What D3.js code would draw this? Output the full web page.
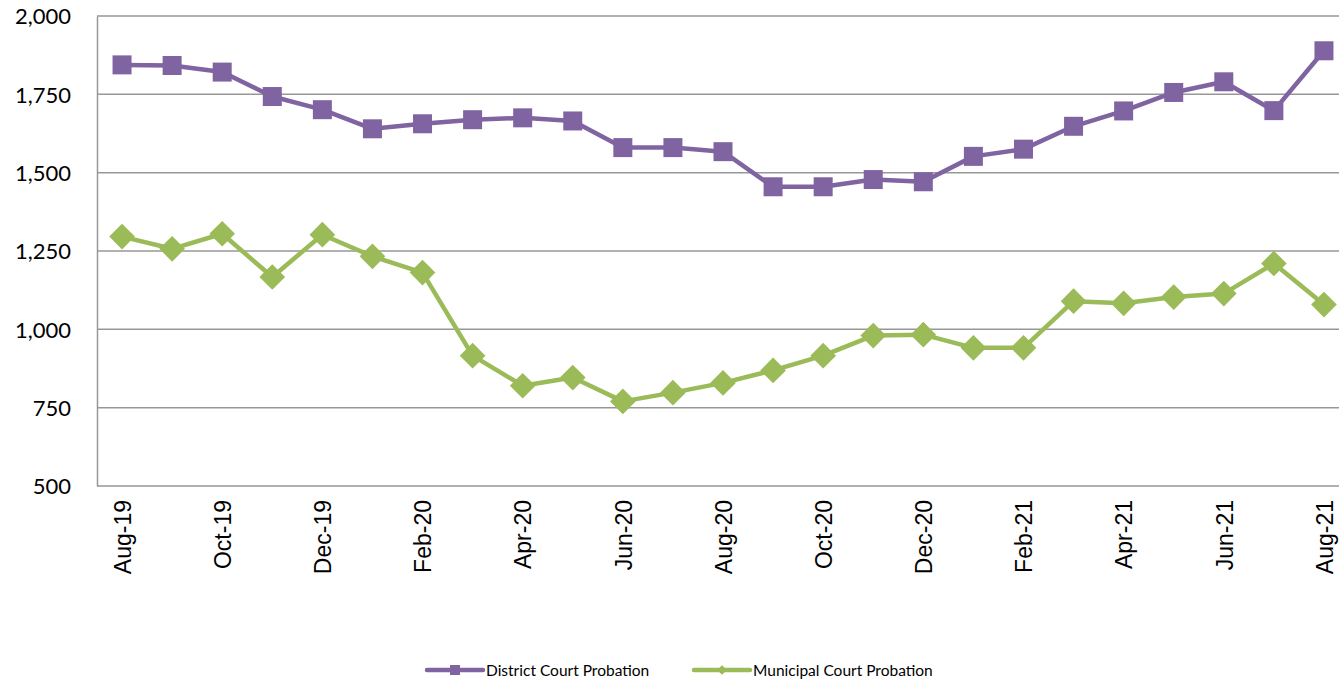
<!DOCTYPE html>
<html>
<head>
<meta charset="utf-8">
<script src="https://cdnjs.cloudflare.com/ajax/libs/d3/7.8.5/d3.min.js"></script>
<style>
  html, body { margin: 0; padding: 0; background: #fff; overflow: hidden; }
  svg { display: block; }
</style>
</head>
<body>
<svg id="chart" width="1339" height="679"></svg>
<script>
const months = ["Aug-19","Sep-19","Oct-19","Nov-19","Dec-19","Jan-20","Feb-20","Mar-20","Apr-20","May-20","Jun-20","Jul-20","Aug-20","Sep-20","Oct-20","Nov-20","Dec-20","Jan-21","Feb-21","Mar-21","Apr-21","May-21","Jun-21","Jul-21","Aug-21"];
const districtCourt = [1844,1842,1821,1743,1701,1640,1656,1669,1675,1665,1580,1580,1567,1455,1455,1478,1471,1552,1575,1648,1697,1756,1790,1698,1889];
const municipalCourt = [1296,1257,1305,1167,1302,1233,1181,916,820,846,770,798,829,869,916,980,983,941,941,1090,1083,1103,1114,1210,1079];
const yTicks = [500,750,1000,1250,1500,1750,2000];
const xTickLabels = ["Aug-19","Oct-19","Dec-19","Feb-20","Apr-20","Jun-20","Aug-20","Oct-20","Dec-20","Feb-21","Apr-21","Jun-21","Aug-21"];
const seriesNames = ["District Court Probation","Municipal Court Probation"];

const purple = "#8064A2", green = "#9BBB59", grid = "#979797";
const svg = d3.select("#chart");
const L = 97, R = 1349, T = 16, B = 486;

const x = d3.scalePoint().domain(months).range([L, R]).padding(0.5);
const y = d3.scaleLinear().domain([500, 2000]).range([B, T]);

// gridlines
svg.append("g").selectAll("line").data(yTicks).join("line")
  .attr("x1", L).attr("x2", R)
  .attr("y1", d => y(d)).attr("y2", d => y(d))
  .attr("stroke", grid).attr("stroke-width", 1.5);

// y axis
const yAxis = d3.axisLeft(y).tickValues(yTicks).tickSize(0).tickPadding(26)
  .tickFormat(d3.format(","));
const gy = svg.append("g").attr("transform", `translate(${L},0)`).call(yAxis);
gy.select(".domain").attr("stroke", grid).attr("stroke-width", 1.5);
gy.selectAll("text").attr("font-family", "Lato, 'Open Sans', sans-serif")
  .attr("font-size", 22).attr("fill", "#000").attr("dy", "0.36em");

// x axis
const xAxis = d3.axisBottom(x).tickValues(xTickLabels).tickSize(0).tickPadding(0);
const gx = svg.append("g").attr("transform", `translate(0,${B})`).call(xAxis);
gx.select(".domain").remove();
gx.selectAll("text")
  .attr("font-family", "'Liberation Sans', Arial, sans-serif")
  .attr("font-size", 23).attr("fill", "#000")
  .attr("text-anchor", "end")
  .attr("transform", "rotate(-90)")
  .attr("x", -14).attr("y", 0).attr("dy", "0.36em");

// lines
const line = d3.line().x((d, i) => x(months[i])).y(d => y(d));
svg.append("path").datum(districtCourt).attr("d", line)
  .attr("fill", "none").attr("stroke", purple).attr("stroke-width", 4.5).attr("stroke-linejoin", "round");
svg.append("path").datum(municipalCourt).attr("d", line)
  .attr("fill", "none").attr("stroke", green).attr("stroke-width", 4.5).attr("stroke-linejoin", "round");

// markers
const sq = 19;
svg.append("g").selectAll("rect").data(districtCourt).join("rect")
  .attr("x", (d, i) => x(months[i]) - sq / 2).attr("y", d => y(d) - sq / 2)
  .attr("width", sq).attr("height", sq).attr("fill", purple);
const dia = d3.symbol().type(d3.symbolDiamond2).size(420);
svg.append("g").selectAll("path").data(municipalCourt).join("path")
  .attr("transform", (d, i) => `translate(${x(months[i])},${y(d)})`)
  .attr("d", dia).attr("fill", green);

// legend
const ly = 670;
const leg = [
  { name: seriesNames[0], color: purple, x0: 427, type: "square" },
  { name: seriesNames[1], color: green, x0: 694, type: "diamond" }
];
leg.forEach(l => {
  const g = svg.append("g");
  g.append("line").attr("x1", l.x0).attr("x2", l.x0 + 56).attr("y1", ly).attr("y2", ly)
    .attr("stroke", l.color).attr("stroke-width", 4.5).attr("stroke-linecap", "round");
  if (l.type === "square") {
    g.append("rect").attr("x", l.x0 + 23).attr("y", ly - 5).attr("width", 10).attr("height", 10).attr("fill", l.color);
  } else {
    g.append("path").attr("transform", `translate(${l.x0 + 28},${ly})`)
      .attr("d", d3.symbol().type(d3.symbolDiamond2).size(60)).attr("fill", l.color);
  }
  g.append("text").attr("x", l.x0 + 59).attr("y", ly).attr("dy", "0.36em")
    .attr("font-family", "Lato, 'Open Sans', sans-serif").attr("font-size", 15.5)
    .attr("fill", "#000").text(l.name);
});
</script>
</body>
</html>
